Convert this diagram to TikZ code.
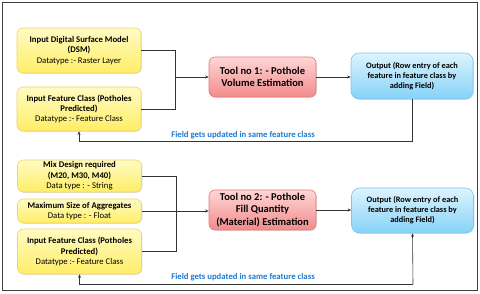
\documentclass[tikz,border=0pt]{standalone}
\usepackage{fontspec}
\setmainfont{Carlito}
\usetikzlibrary{arrows.meta,shadows}
\definecolor{ybord}{HTML}{F2D36B}
\definecolor{ytop}{HTML}{FFFBC4}
\definecolor{ybot}{HTML}{FFEE66}
\definecolor{rbord}{HTML}{E07A7A}
\definecolor{rtop}{HTML}{FFD6D6}
\definecolor{rbot}{HTML}{F28B8B}
\definecolor{bbord}{HTML}{7CC6EE}
\definecolor{btop}{HTML}{DDF4FF}
\definecolor{bbot}{HTML}{86D2F7}
\definecolor{lblue}{HTML}{1F78D1}
\tikzset{
  box/.style={draw, line width=0.6pt, rounded corners=6pt, align=center, inner sep=1pt,
    drop shadow={shadow xshift=0.8pt, shadow yshift=-0.8pt, opacity=0.25}},
  ybox/.style={box, draw=ybord, top color=ytop, bottom color=ybot, minimum width=124pt,
    font=\fontsize{8.7}{10.4}\selectfont},
  rbox/.style={box, draw=rbord, top color=rtop, bottom color=rbot, minimum width=107pt, minimum height=40pt,
    font=\fontsize{10.5}{12.6}\selectfont\bfseries},
  bbox/.style={box, draw=bbord, top color=btop, bottom color=bbot, minimum width=122pt, minimum height=46pt,
    rounded corners=8pt, font=\fontsize{8.3}{10}\selectfont\bfseries},
  conn/.style={draw=black!80, line width=0.6pt},
  arr/.style={conn, -{Stealth[length=3.5pt,width=3pt]}},
  lbl/.style={text=lblue, font=\fontsize{8.7}{9}\selectfont\bfseries, inner sep=0pt},
}
\begin{document}
\begin{tikzpicture}[x=1pt,y=-1pt]
\useasboundingbox (0,0) rectangle (480,294);
\draw[black!75, line width=0.6pt] (2,2) rectangle (477,290);

% section 1
\node[ybox, minimum height=45pt] (dsm) at (79,50.5) {\textbf{Input Digital Surface Model}\\\textbf{(DSM)}\\Datatype :- Raster Layer};
\node[ybox, minimum height=44pt] (fc1) at (79,109) {\textbf{Input Feature Class (Potholes}\\\textbf{Predicted)}\\Datatype :- Feature Class};
\node[rbox] (tool1) at (262.5,77) {Tool no 1: - Pothole\\Volume Estimation};
\node[bbox] (out1) at (412,76) {Output (Row entry of each\\feature in feature class by\\adding Field)};
\coordinate (b1) at (175,77);
\draw[conn] (dsm.east) -| (b1);
\draw[conn] (fc1.east) -| (b1);
\draw[arr] (b1) -- (tool1.west);
\draw[arr] (tool1.east) -- (tool1.east -| out1.west);
\coordinate (f1) at (412,141);
\draw[arr] (out1.south) -- (f1) -| (fc1.south);
\node[lbl] (l1) at (243,135) {Field gets updated in same feature class};

% section 2
\node[ybox, minimum height=32pt] (mix) at (79.5,176) {\textbf{Mix Design required}\\\textbf{(M20, M30, M40)}\\Data type : - String};
\node[ybox, minimum height=24pt] (agg) at (79.5,211) {\textbf{Maximum Size of Aggregates}\\Data type : - Float};
\node[ybox, minimum height=45pt] (fc2) at (79.5,251.5) {\textbf{Input Feature Class (Potholes}\\\textbf{Predicted)}\\Datatype :- Feature Class};
\node[rbox] (tool2) at (262.5,210) {Tool no 2: - Pothole\\Fill Quantity\\(Material) Estimation};
\node[bbox, minimum height=45pt] (out2) at (412.5,210.5) {Output (Row entry of each\\feature in feature class by\\adding Field)};
\coordinate (b2) at (176,211);
\draw[conn] (mix.east) -| (b2);
\draw[conn] (fc2.east) -| (b2);
\draw[arr] (agg.east) -- (tool2.west |- agg.east);
\draw[arr] (tool2.east) -- (tool2.east -| out2.west);
\coordinate (f2) at (413,284);
\draw[arr] (f2) -- (out2.south);
\draw[arr] (f2) -| (fc2.south);
\node[lbl] (l2) at (243,277) {Field gets updated in same feature class};
\end{tikzpicture}
\end{document}
